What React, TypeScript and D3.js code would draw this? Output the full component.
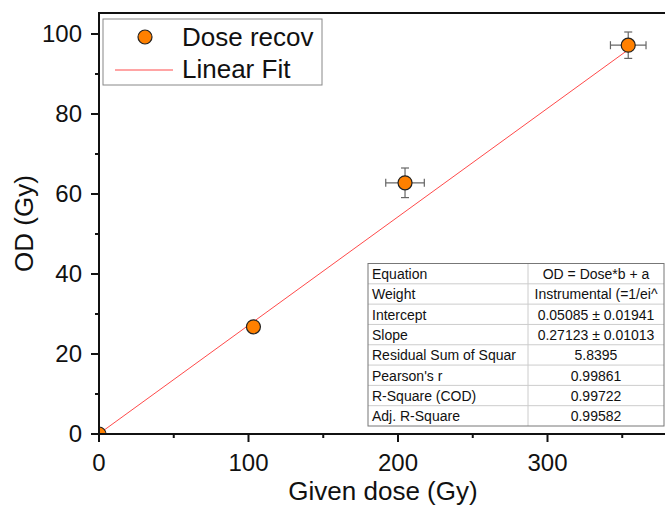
import React from 'react';
import * as d3 from 'd3';

const doseX = [0, 103.3, 204.7, 354];
const odY = [0, 26.8, 62.8, 97.2];
const errX = [0, 1, 12.9, 11.9];
const errY = [0, 0.8, 3.7, 3.3];
const fitIntercept = 0.05085;
const fitSlope = 0.27123;
const xTicks = [0, 100, 200, 300];
const xMinor = [50, 150, 250, 350];
const yTicks = [0, 20, 40, 60, 80, 100];
const yMinor = [10, 30, 50, 70, 90];
const tableLabels = ['Equation', 'Weight', 'Intercept', 'Slope', 'Residual Sum of Squar', "Pearson's r", 'R-Square (COD)', 'Adj. R-Square'];
const tableValues = ['OD = Dose*b + a', 'Instrumental (=1/ei^', '0.05085 ± 0.01941', '0.27123 ± 0.01013', '5.8395', '0.99861', '0.99722', '0.99582'];

const W = 665, H = 506;
const left = 99, right = 667, top = 13, bottom = 434;
const FONT = 'Arial, "Liberation Sans", sans-serif';

export default function App() {
  const x = d3.scaleLinear().domain([0, (right - left) / 1.495]).range([left, right]);
  const y = d3.scaleLinear().domain([0, 100]).range([bottom, 34]);
  const xMax = d3.max(doseX) as number;
  const fitLine = d3.line<number>().x(d => x(d)).y(d => y(fitIntercept + fitSlope * d));
  const tX0 = 368, tX1 = 664, tY0 = 263.5, tY1 = 426, tDiv = 528;
  const rowH = (tY1 - tY0) / tableLabels.length;
  const cap = 4;
  return (
    <svg width={W} height={H} style={{ position: 'absolute', left: 0, top: 0, background: '#fff' }} fontFamily={FONT}>
      <defs>
        <clipPath id="plotclip">
          <rect x={left} y={top} width={right - left} height={bottom - top} />
        </clipPath>
      </defs>
      <rect x={0} y={0} width={W} height={H} fill="#fff" />
      <g clipPath="url(#plotclip)">
        <path d={fitLine([0, xMax]) || ''} fill="none" stroke="#ff4a4a" strokeWidth={1} />
        {doseX.map((dx, i) => {
          const cx = x(dx), cy = y(odY[i]);
          const x0 = x(dx - errX[i]), x1 = x(dx + errX[i]);
          const y0 = y(odY[i] - errY[i]), y1 = y(odY[i] + errY[i]);
          return (
            <g key={i} stroke="#666" strokeWidth={1.2}>
              {errX[i] > 0 && <>
                <line x1={x0} x2={x1} y1={cy} y2={cy} />
                <line x1={x0} x2={x0} y1={cy - cap} y2={cy + cap} />
                <line x1={x1} x2={x1} y1={cy - cap} y2={cy + cap} />
              </>}
              {errY[i] > 0 && <>
                <line x1={cx} x2={cx} y1={y0} y2={y1} />
                <line x1={cx - cap} x2={cx + cap} y1={y0} y2={y0} />
                <line x1={cx - cap} x2={cx + cap} y1={y1} y2={y1} />
              </>}
            </g>
          );
        })}
        {doseX.map((dx, i) => (
          <circle key={'c' + i} cx={x(dx)} cy={y(odY[i])} r={7} fill="#ff8000" stroke="#222" strokeWidth={1.2} />
        ))}
      </g>
      <line x1={left} x2={left} y1={top} y2={bottom + 1} stroke="#111" strokeWidth={2} />
      <line x1={left - 1} x2={right} y1={bottom} y2={bottom} stroke="#111" strokeWidth={2} />
      <line x1={left - 1} x2={right} y1={top} y2={top} stroke="#111" strokeWidth={2} />
      {xTicks.map(t => (
        <g key={'xt' + t}>
          <line x1={x(t)} x2={x(t)} y1={bottom} y2={bottom + 8} stroke="#111" strokeWidth={2} />
          <text x={x(t)} y={471} fontSize={24} textAnchor="middle" fill="#111">{t}</text>
        </g>
      ))}
      {xMinor.map(t => (
        <line key={'xm' + t} x1={x(t)} x2={x(t)} y1={bottom} y2={bottom + 4} stroke="#111" strokeWidth={2} />
      ))}
      {yTicks.map(t => (
        <g key={'yt' + t}>
          <line x1={left - 8} x2={left} y1={y(t)} y2={y(t)} stroke="#111" strokeWidth={2} />
          <text x={82} y={y(t)} dy="0.35em" fontSize={24} textAnchor="end" fill="#111">{t}</text>
        </g>
      ))}
      {yMinor.map(t => (
        <line key={'ym' + t} x1={left - 4} x2={left} y1={y(t)} y2={y(t)} stroke="#111" strokeWidth={2} />
      ))}
      <text x={(left + right) / 2} y={500} fontSize={26} textAnchor="middle" fill="#111">Given dose (Gy)</text>
      <text transform={`translate(33, ${(top + bottom) / 2}) rotate(-90)`} fontSize={26} textAnchor="middle" fill="#111">OD (Gy)</text>
      <rect x={103} y={19} width={219} height={66} fill="#fff" stroke="#888" strokeWidth={1} />
      <circle cx={145} cy={37} r={7} fill="#ff8000" stroke="#222" strokeWidth={1.2} />
      <text x={182} y={46} fontSize={26} fill="#111">Dose recov</text>
      <line x1={115} x2={173} y1={70} y2={70} stroke="#ff4a4a" strokeWidth={1} />
      <text x={182} y={78} fontSize={26} fill="#111">Linear Fit</text>
      <rect x={tX0} y={tY0} width={tX1 - tX0} height={tY1 - tY0} fill="#fff" />
      {tableLabels.map((lab, i) => (
        <g key={'r' + i}>
          {i > 0 && <line x1={tX0} x2={tX1} y1={tY0 + i * rowH} y2={tY0 + i * rowH} stroke="#ccc" strokeWidth={1} />}
          <text x={tX0 + 4} y={tY0 + i * rowH + 15.5} fontSize={14} fill="#111">{lab}</text>
          <text x={(tDiv + tX1) / 2} y={tY0 + i * rowH + 15.5} fontSize={14} textAnchor="middle" fill="#111">{tableValues[i]}</text>
        </g>
      ))}
      <line x1={tDiv} x2={tDiv} y1={tY0} y2={tY1} stroke="#ccc" strokeWidth={1} />
      <rect x={tX0} y={tY0} width={tX1 - tX0} height={tY1 - tY0} fill="none" stroke="#777" strokeWidth={1} />
    </svg>
  );
}
